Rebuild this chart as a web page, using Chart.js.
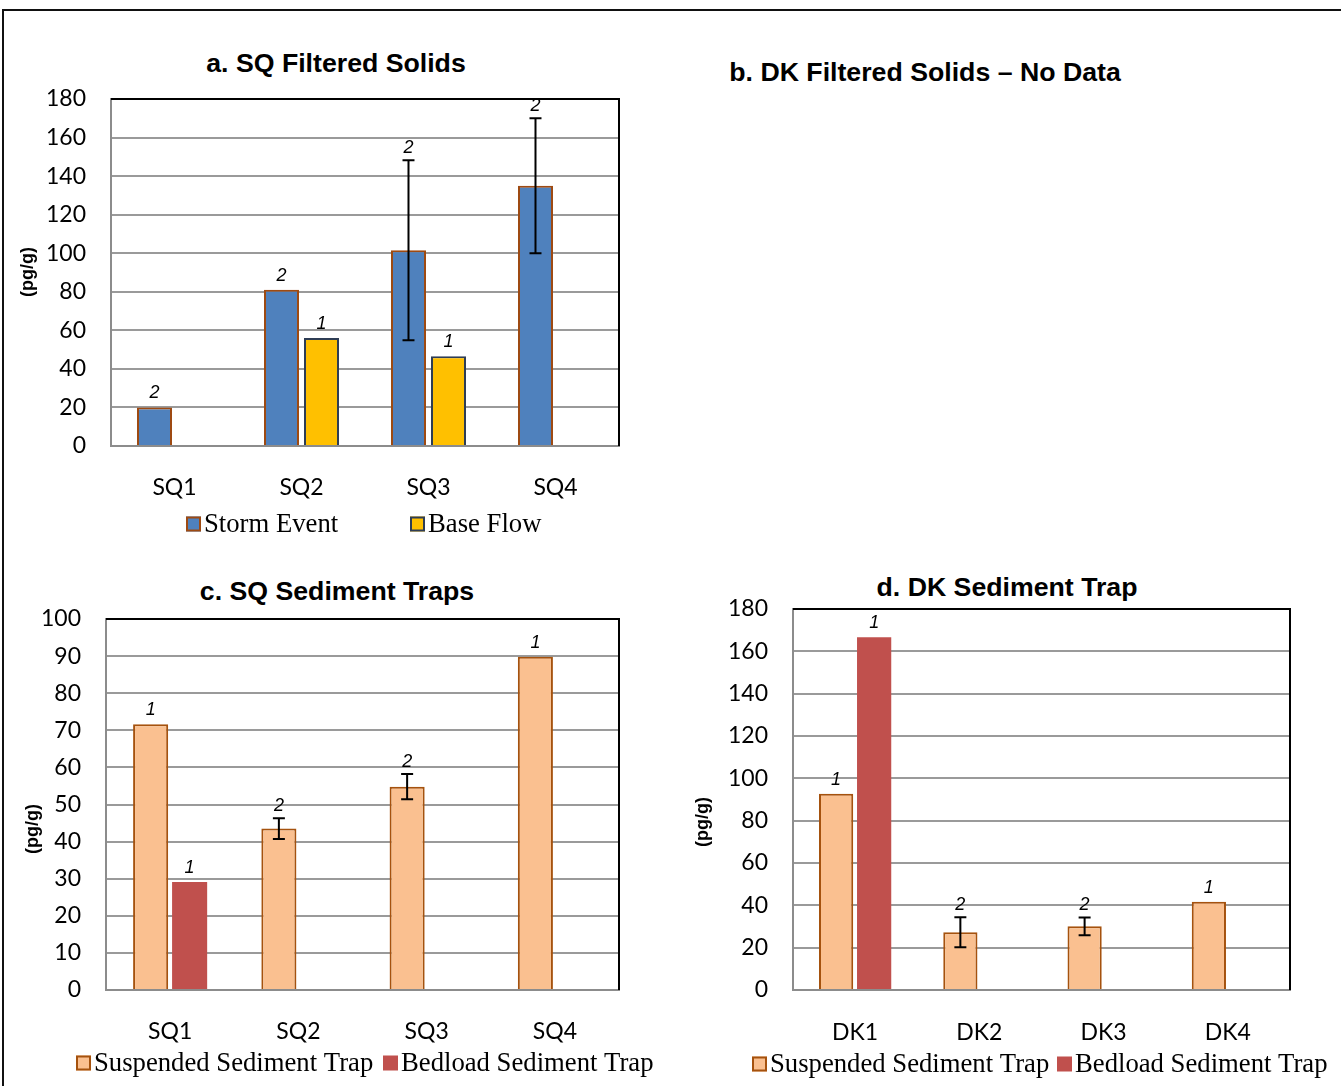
<!DOCTYPE html>
<html>
<head>
<meta charset="utf-8">
<script src="https://cdn.jsdelivr.net/npm/chart.js@4"></script>
<style>
  html, body { margin: 0; padding: 0; background: #fff; }
  #page { position: relative; width: 1341px; height: 1086px; overflow: hidden; background: #fff; }
  #page canvas { position: absolute; left: 0; top: 0; }
  .frame { position: absolute; left: 2px; top: 9px; width: 1400px; height: 1200px; border: 2px solid #111; box-sizing: border-box; }
  .title { position: absolute; font: bold 26.7px "Liberation Sans", Arial, sans-serif; color: #000; white-space: nowrap; transform: translate(-50%, -50%); }
</style>
</head>
<body>
<div id="page">
  <div class="frame"></div>
  <div class="title" style="left:336px; top:63px;">a. SQ Filtered Solids</div>
  <div class="title" style="left:925px; top:72px;">b. DK Filtered Solids – No Data</div>
  <div class="title" style="left:337px; top:591px;">c. SQ Sediment Traps</div>
  <div class="title" style="left:1007px; top:587px;">d. DK Sediment Trap</div>
  <canvas id="chartA" width="1341" height="1086"></canvas>
  <canvas id="chartC" width="1341" height="1086"></canvas>
  <canvas id="chartD" width="1341" height="1086"></canvas>
</div>
<script>
// ---- site categories ----
const sqSites = ['SQ1', 'SQ2', 'SQ3', 'SQ4'];
const dkSites = ['DK1', 'DK2', 'DK3', 'DK4'];

// ---- a. SQ filtered solids (pg/g) ----
const stormEvent    = [20, 81, 101.5, 135];
const stormEventErr = [null, null, 46.7, 35];
const stormEventN   = ['2', '2', '2', '2'];
const baseFlow      = [null, 56, 46.5, null];
const baseFlowN     = [null, '1', '1', null];

// ---- c. SQ sediment traps (pg/g) ----
const sqSuspended    = [71.6, 43.5, 54.8, 89.8];
const sqSuspendedErr = [null, 2.8, 3.4, null];
const sqSuspendedN   = ['1', '2', '2', '1'];
const sqBedload      = [29.1, null, null, null];
const sqBedloadN     = ['1', null, null, null];

// ---- d. DK sediment trap (pg/g) ----
const dkSuspended    = [92.7, 27.3, 30.1, 41.7];
const dkSuspendedErr = [null, 7.1, 4.2, null];
const dkSuspendedN   = ['1', '2', '2', '1'];
const dkBedload      = [166.7, null, null, null];
const dkBedloadN     = ['1', null, null, null];

// ---- y-axis tick values ----
const filteredTicks = [0, 20, 40, 60, 80, 100, 120, 140, 160, 180];
const sqTrapTicks   = [0, 10, 20, 30, 40, 50, 60, 70, 80, 90, 100];
const dkTrapTicks   = [0, 20, 40, 60, 80, 100, 120, 140, 160, 180];

const PAGE_W = 1341, PAGE_H = 1086;
const Y_AXIS_W = 80, X_AXIS_H = 60;

// Error bars and sample counts above each bar
const barNotes = {
  id: 'barNotes',
  afterDatasetsDraw(chart) {
    const ctx = chart.ctx;
    const yScale = chart.scales.y;
    chart.data.datasets.forEach((ds, i) => {
      const meta = chart.getDatasetMeta(i);
      meta.data.forEach((el, j) => {
        const v = ds.data[j];
        if (v == null) return;
        let top = el.y - 2;
        const e = ds.errorBars ? ds.errorBars[j] : null;
        ctx.save();
        if (e != null) {
          const yHi = yScale.getPixelForValue(v + e);
          const yLo = yScale.getPixelForValue(v - e);
          const cap = 6;
          ctx.strokeStyle = '#000';
          ctx.lineWidth = 2;
          ctx.beginPath();
          ctx.moveTo(el.x, yHi); ctx.lineTo(el.x, yLo);
          ctx.moveTo(el.x - cap, yHi); ctx.lineTo(el.x + cap, yHi);
          ctx.moveTo(el.x - cap, yLo); ctx.lineTo(el.x + cap, yLo);
          ctx.stroke();
          top = Math.min(top, yHi);
        }
        const n = ds.counts ? ds.counts[j] : null;
        if (n) {
          ctx.fillStyle = '#000';
          ctx.font = 'italic 18px "Liberation Sans", Arial, sans-serif';
          ctx.textAlign = 'center';
          ctx.textBaseline = 'alphabetic';
          ctx.fillText(n, el.x, top - 7);
        }
        ctx.restore();
      });
    });
  }
};

function panelDecor(p) {
  return {
    id: 'panelDecor',
    afterDraw(chart) {
      const { ctx, chartArea: a } = chart;
      ctx.save();
      // black top and right edges of the plot frame
      ctx.strokeStyle = '#000';
      ctx.lineWidth = 2;
      ctx.beginPath();
      ctx.moveTo(a.left, a.top);
      ctx.lineTo(a.right, a.top);
      ctx.lineTo(a.right, a.bottom);
      ctx.stroke();
      ctx.restore();

      // rotated unit label
      ctx.save();
      ctx.translate(p.yTitleAt[0], p.yTitleAt[1]);
      ctx.rotate(-Math.PI / 2);
      ctx.font = 'bold 18px "Liberation Sans", Arial, sans-serif';
      ctx.textAlign = 'center';
      ctx.textBaseline = 'middle';
      ctx.fillStyle = '#000';
      ctx.fillText('(pg/g)', 0, 0);
      ctx.restore();

      // legend: swatch followed directly by the series name
      ctx.save();
      ctx.font = '26.7px "Liberation Serif", "Times New Roman", serif';
      ctx.textAlign = 'left';
      ctx.textBaseline = 'middle';
      chart.data.datasets.forEach((ds, i) => {
        const x = p.legendX[i], y = p.legendY, s = 15;
        ctx.fillStyle = ds.backgroundColor;
        ctx.fillRect(x, y - s / 2, s, s);
        if (ds.borderWidth) {
          ctx.strokeStyle = ds.borderColor;
          ctx.lineWidth = 2;
          ctx.strokeRect(x + 1, y - s / 2 + 1, s - 2, s - 2);
        }
        ctx.fillStyle = '#000';
        ctx.fillText(ds.label, x + s + 3, y + 1);
      });
      ctx.restore();
    }
  };
}

function buildPanel(canvasId, p) {
  const tickFont = { family: 'Lato', size: 23 };
  return new Chart(document.getElementById(canvasId), {
    type: 'bar',
    data: { labels: p.labels, datasets: p.datasets },
    options: {
      responsive: false,
      animation: false,
      events: [],
      layout: {
        padding: {
          left: p.area.l - Y_AXIS_W,
          top: p.area.t,
          right: PAGE_W - p.area.r,
          bottom: PAGE_H - p.area.b - X_AXIS_H
        }
      },
      plugins: { legend: { display: false }, title: { display: false }, tooltip: { enabled: false } },
      datasets: { bar: { categoryPercentage: p.catPct, barPercentage: p.barPct } },
      scales: {
        x: {
          grid: { display: false, drawTicks: false },
          border: { display: true, color: '#8c8c8c', width: 2 },
          ticks: { padding: p.xPad, color: '#000', font: tickFont, maxRotation: 0 },
          afterFit(s) { s.height = X_AXIS_H; }
        },
        y: {
          min: p.ticks[0],
          max: p.ticks[p.ticks.length - 1],
          afterBuildTicks(s) { s.ticks = p.ticks.map(v => ({ value: v })); },
          grid: { color: '#9a9a9a', lineWidth: 2, drawTicks: false },
          border: { display: true, color: '#8c8c8c', width: 2 },
          ticks: { padding: 25, color: '#000', font: tickFont },
          afterFit(s) { s.width = Y_AXIS_W; }
        }
      }
    },
    plugins: [barNotes, panelDecor(p)]
  });
}

const stormFill = '#4F81BD', stormEdge = '#9E4A12';
const baseFill = '#FFC000', baseEdge = '#2E3D55';
const suspFill = '#FAC090', suspEdge = '#A5520E';
const bedFill = '#C0504D';

buildPanel('chartA', {
  labels: sqSites,
  ticks: filteredTicks,
  area: { l: 111, t: 99, r: 619, b: 446 },
  catPct: 0.63, barPct: 0.875, xPad: 28,
  yTitleAt: [28, 272],
  legendX: [186, 410], legendY: 524,
  datasets: [
    { label: 'Storm Event', data: stormEvent, errorBars: stormEventErr, counts: stormEventN,
      backgroundColor: stormFill, borderColor: stormEdge, borderWidth: 2 },
    { label: 'Base Flow', data: baseFlow, counts: baseFlowN,
      backgroundColor: baseFill, borderColor: baseEdge, borderWidth: 2 }
  ]
});

buildPanel('chartC', {
  labels: sqSites,
  ticks: sqTrapTicks,
  area: { l: 106, t: 619, r: 619, b: 990 },
  catPct: 0.608, barPct: 0.9, xPad: 28,
  yTitleAt: [33, 829],
  legendX: [76, 383], legendY: 1063,
  datasets: [
    { label: 'Suspended Sediment Trap', data: sqSuspended, errorBars: sqSuspendedErr, counts: sqSuspendedN,
      backgroundColor: suspFill, borderColor: suspEdge, borderWidth: 2 },
    { label: 'Bedload Sediment Trap', data: sqBedload, counts: sqBedloadN,
      backgroundColor: bedFill, borderColor: bedFill, borderWidth: 0 }
  ]
});

buildPanel('chartD', {
  labels: dkSites,
  ticks: dkTrapTicks,
  area: { l: 793, t: 609, r: 1290, b: 990 },
  catPct: 0.612, barPct: 0.9, xPad: 29,
  yTitleAt: [703, 822],
  legendX: [752, 1057], legendY: 1064,
  datasets: [
    { label: 'Suspended Sediment Trap', data: dkSuspended, errorBars: dkSuspendedErr, counts: dkSuspendedN,
      backgroundColor: suspFill, borderColor: suspEdge, borderWidth: 2 },
    { label: 'Bedload Sediment Trap', data: dkBedload, counts: dkBedloadN,
      backgroundColor: bedFill, borderColor: bedFill, borderWidth: 0 }
  ]
});
</script>
</body>
</html>
